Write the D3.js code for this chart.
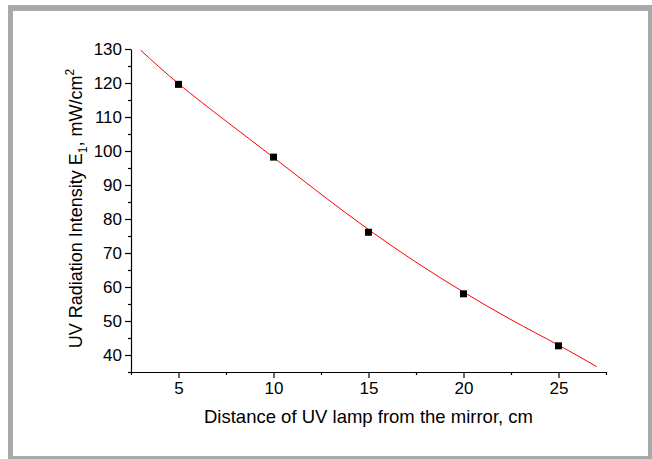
<!DOCTYPE html>
<html>
<head>
<meta charset="utf-8">
<script src="https://cdn.jsdelivr.net/npm/d3@7"></script>
<style>
  body { margin: 0; background: #fff; }
  text { font-family: "Liberation Sans", Arial, sans-serif; fill: #000; }
</style>
</head>
<body>
<div id="chart"></div>
<script>
// measured points
const distance = [5, 10, 15, 20, 25];
const intensity = [119.6, 98.2, 76.1, 58.0, 42.7];

// fitted curve
const fitX = [3, 5, 7.5, 10, 12.5, 15, 17.5, 20, 22.5, 25, 27];
const fitY = [129.7, 119.8, 108.8, 98.1, 87.3, 76.9, 67.3, 58.5, 50.4, 42.9, 36.6];

const xTicks = [5, 10, 15, 20, 25];
const yTicks = [40, 50, 60, 70, 80, 90, 100, 110, 120, 130];

const W = 652, H = 459;
const plot = { left: 131, right: 606, top: 49, bottom: 372 };

const svg = d3.select("#chart").append("svg")
    .attr("width", W)
    .attr("height", H);

// grey frame
svg.append("rect").attr("x", 8).attr("y", 5).attr("width", W - 8).attr("height", H - 5)
    .attr("fill", "#a9a9ab");
svg.append("rect").attr("x", 13).attr("y", 11).attr("width", 635).attr("height", 445)
    .attr("fill", "#fff");

const x = d3.scaleLinear().domain([2.5, 27.5]).range([plot.left, plot.right]);
const y = d3.scaleLinear().domain([35, 130]).range([plot.bottom, plot.top]);

// minor ticks
const xMinor = d3.range(2.5, 27.6, 5);
const yMinor = d3.range(35, 130, 10);

const xAxis = svg.append("g").attr("transform", "translate(0," + plot.bottom + ")");
xAxis.call(d3.axisBottom(x).tickValues(xTicks).tickSize(6).tickSizeOuter(0).tickPadding(4));
xAxis.append("g").call(d3.axisBottom(x).tickValues(xMinor).tickSize(3).tickSizeOuter(0).tickFormat(""))
    .select(".domain").remove();

const yAxis = svg.append("g").attr("transform", "translate(" + plot.left + ",0)");
yAxis.call(d3.axisLeft(y).tickValues(yTicks).tickSize(6).tickSizeOuter(0).tickPadding(3));
yAxis.append("g").call(d3.axisLeft(y).tickValues(yMinor).tickSize(3).tickSizeOuter(0).tickFormat(""))
    .select(".domain").remove();

svg.selectAll(".domain, .tick line").attr("stroke", "#000").attr("stroke-width", 1.2);
svg.selectAll(".tick text").attr("font-size", 17).attr("fill", "#000")
    .style("font-family", "Liberation Sans, Arial, sans-serif");

// fit line
const fit = fitX.map((d, i) => [d, fitY[i]]);
svg.append("path")
    .datum(fit)
    .attr("fill", "none")
    .attr("stroke", "#ff0000")
    .attr("stroke-width", 1)
    .attr("d", d3.line().x(d => x(d[0])).y(d => y(d[1])).curve(d3.curveNatural));

// markers
svg.selectAll("rect.pt")
    .data(distance)
    .join("rect")
    .attr("class", "pt")
    .attr("x", (d) => x(d) - 3.5)
    .attr("y", (d, i) => y(intensity[i]) - 3.5)
    .attr("width", 7)
    .attr("height", 7)
    .attr("fill", "#000");

// axis titles
svg.append("text")
    .attr("x", (plot.left + plot.right) / 2)
    .attr("y", 423)
    .attr("text-anchor", "middle")
    .attr("font-size", 18.5)
    .text("Distance of UV lamp from the mirror, cm");

const yl = svg.append("text")
    .attr("transform", "translate(82," + ((plot.top + plot.bottom) / 2 - 2) + ") rotate(-90)")
    .attr("text-anchor", "middle")
    .attr("font-size", 18);
yl.append("tspan").text("UV Radiation Intensity E");
yl.append("tspan").attr("font-size", 12).attr("dy", 5).text("1");
yl.append("tspan").attr("dy", -5).text(", mW/cm");
yl.append("tspan").attr("font-size", 12).attr("dy", -8).text("2");
</script>
</body>
</html>
